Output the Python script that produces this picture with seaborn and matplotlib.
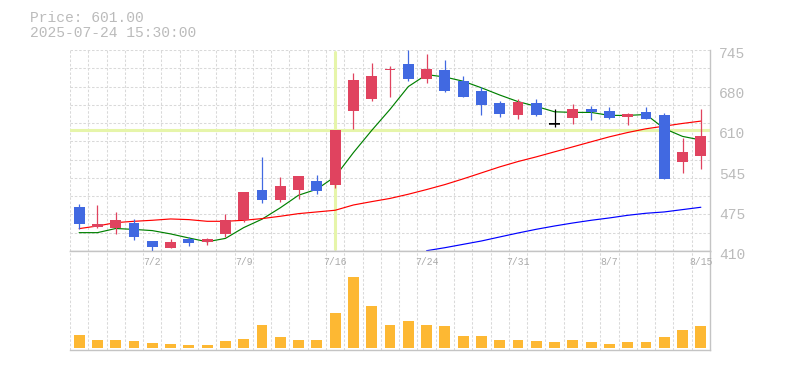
import matplotlib
matplotlib.use('Agg')
import matplotlib.pyplot as plt
import matplotlib.transforms as mtransforms
import seaborn as sns
import numpy as np

# trading days shown (one candle each)
dates = ['2025-06-26', '2025-06-27', '2025-06-30', '2025-07-01', '2025-07-02',
         '2025-07-03', '2025-07-04', '2025-07-07', '2025-07-08', '2025-07-09',
         '2025-07-10', '2025-07-11', '2025-07-14', '2025-07-15', '2025-07-16',
         '2025-07-17', '2025-07-18', '2025-07-22', '2025-07-23', '2025-07-24',
         '2025-07-25', '2025-07-28', '2025-07-29', '2025-07-30', '2025-07-31',
         '2025-08-01', '2025-08-04', '2025-08-05', '2025-08-06', '2025-08-07',
         '2025-08-08', '2025-08-12', '2025-08-13', '2025-08-14', '2025-08-15']

opens = [483, 450, 449, 456, 426, 415, 429.5, 425, 438, 461, 511, 495, 511, 526, 520,
         644, 663, 712, 722, 697, 712, 693, 677, 656.5, 637, 656.5, 622, 632, 646.5,
         643, 634, 641.5, 636.5, 558, 569]
highs = [488, 486, 474.5, 464, 427, 429.5, 433, 432, 472, 508, 566, 533, 535, 536, 611.4,
         707, 723, 718, 745, 738, 728, 702, 683, 660, 664, 663, 646.5, 655, 651.5,
         650, 640, 650, 640, 599, 646.5]
lows = [447, 448, 438, 428, 410, 415, 418, 420.6, 433, 458, 490, 491, 496, 505, 515,
        613, 660, 667, 694, 690, 675, 667, 637, 634, 630, 635, 617, 622, 628,
        630, 620, 630, 530, 540, 547]
closes = [455, 454.5, 461, 433, 417, 424.5, 423, 429.5, 461, 508, 495, 518, 535, 510, 611.4,
          695, 702, 713, 697, 713, 677, 667, 654, 639, 658, 637, 622, 646, 642,
          631.5, 638, 630, 530, 575, 601]

# moving averages
ma_short = [440.6, 440.6, 447.5, 446, 444, 438.5, 431.7, 425.4, 431, 449, 463, 482, 503,
            513, 534, 574, 611, 646, 684, 704, 700, 693, 682, 670, 659, 651, 642,
            641, 641, 636, 636, 637.5, 614, 601, 595]
ma_mid = [447.3, 451.7, 457.3, 459.5, 461.2, 463.4, 462.3, 459.5, 459.5, 461.2, 464,
          467.9, 472.3, 475.1, 477.9, 486.7, 492.3, 497.6, 504.6, 512.4, 520.7, 530.2,
          540.2, 550.2, 559.1, 566.9, 575.3, 583.6, 592, 600.3, 607.5, 613.7, 618.1,
          622.6, 626.5]
ma_long_start = 19
ma_long = [410.5, 415.5, 421.1, 426.7, 433.4, 440, 446.2, 451.7, 456.7, 461.2, 465.1,
           469.5, 472.9, 475.1, 479, 482.9]

volume = [39, 24, 24, 21, 15, 12, 9, 9, 21, 27, 69, 33, 24, 24, 105, 214, 126, 69,
          81, 69, 66, 36, 36, 24, 24, 21, 18, 24, 18, 12, 18, 18, 33, 54, 66]

y_ticks = [410, 477, 544, 611, 678, 745]
y_tick_labels = ['410', '475', '545', '610', '680', '745']
cross_idx = 14
cross_price = 611.4
cursor_time = '2025-07-24 15:30:00'

UP = '#e0435f'
DOWN = '#4169e1'
GRID = '#d9d9d9'
AXIS = '#c4c4c4'

sns.set_style('white')
plt.rcParams['font.family'] = ['Liberation Mono', 'DejaVu Sans Mono']
plt.rcParams['lines.scale_dashes'] = False

n = len(dates)
idx = np.arange(n)
o = np.array(opens); c = np.array(closes)
h = np.array(highs); l = np.array(lows)

fig = plt.figure(figsize=(7.85, 3.7), dpi=100)
ax = fig.add_axes([70 / 785, 119 / 370, 640 / 785, 201 / 370])
axv = fig.add_axes([70 / 785, 20 / 370, 640 / 785, 99 / 370])

ymin, ymax = 410, 745
dash = (0, (1.8, 1.3))

# grid
for b in np.arange(-0.5, n - 0.5, 1.0):
    ax.axvline(b, color=GRID, lw=0.75, ls=dash, zorder=0)
    axv.axvline(b, color=GRID, lw=0.75, ls=dash, zorder=0)
for gy in np.linspace(ymin, ymax, 12)[1:]:
    ax.axhline(gy, color=GRID, lw=0.75, ls=dash, zorder=0)

# crosshair
ax.axvline(cross_idx, ymin=0.008, ymax=0.992, color='#e6f5aa', lw=2.2, zorder=1)
ax.axhline(cross_price, color='#e6f5aa', lw=2.2, zorder=1)

# moving averages
sns.lineplot(x=idx, y=ma_short, color='#008000', lw=0.85, ax=ax, zorder=2)
sns.lineplot(x=idx, y=ma_mid, color='#ff0000', lw=0.85, ax=ax, zorder=2)
sns.lineplot(x=idx[ma_long_start:], y=ma_long, color='#0000ff', lw=0.85, ax=ax, zorder=2)

# candles
colors = [UP if cc > oo else (DOWN if cc < oo else 'black') for oo, cc in zip(o, c)]
ax.vlines(idx, l, h, colors=colors, lw=0.9, zorder=3)
body = np.maximum(np.abs(c - o), 1.4)
ax.bar(idx, body, bottom=np.minimum(o, c), width=0.6, color=colors, lw=0, zorder=4)
flat = o == c
ax.hlines(o[flat], idx[flat] - 0.3, idx[flat] + 0.3, colors='black', lw=1.1, zorder=4)

ax.set_xlim(-0.5, n - 0.5)
ax.set_ylim(ymin, ymax)
ax.set_xticks([])
ax.yaxis.tick_right()
ax.set_yticks(y_ticks)
ax.set_yticklabels(y_tick_labels, color='#bbbbbb', fontsize=10.5)
ax.tick_params(axis='y', length=0, pad=6.5)
off = mtransforms.ScaledTranslation(0, -2.5 / 100, fig.dpi_scale_trans)
for lab in ax.get_yticklabels():
    lab.set_transform(lab.get_transform() + off)
ax.set_xlabel('')
ax.set_ylabel('')
for side in ['left', 'top']:
    ax.spines[side].set_visible(False)
for side in ['right', 'bottom']:
    ax.spines[side].set_color(AXIS)
    ax.spines[side].set_linewidth(1)

# volume
sns.barplot(x=idx, y=volume, color='#fdb833', saturation=1, width=0.6,
            native_scale=True, linewidth=0, ax=axv, zorder=2)
vmax = max(volume)
axv.set_xlim(-0.5, n - 0.5)
axv.set_ylim(-vmax * 6 / 214, vmax * 291 / 214)
axv.set_xticks([])
axv.set_yticks([])
axv.set_xlabel('')
axv.set_ylabel('')
axv.spines['left'].set_visible(False)
for side in ['right', 'bottom', 'top']:
    axv.spines[side].set_color(AXIS)
    axv.spines[side].set_linewidth(1)

trans = mtransforms.blended_transform_factory(axv.transData, axv.transAxes)
for i in range(4, n, 5):
    m, d = dates[i][5:].split('-')
    axv.text(i, 0.889, f'{int(m)}/{int(d)}', transform=trans, ha='center', va='center',
             fontsize=7, color='#aaaaaa')

fig.text(30 / 785, 1 - 18 / 370, f'Price: {closes[-1]:.2f}', ha='left', va='center',
         fontsize=10.5, color='#bbbbbb')
fig.text(30 / 785, 1 - 33 / 370, cursor_time, ha='left', va='center',
         fontsize=10.5, color='#bbbbbb')

fig.savefig('out.png', dpi=100)
